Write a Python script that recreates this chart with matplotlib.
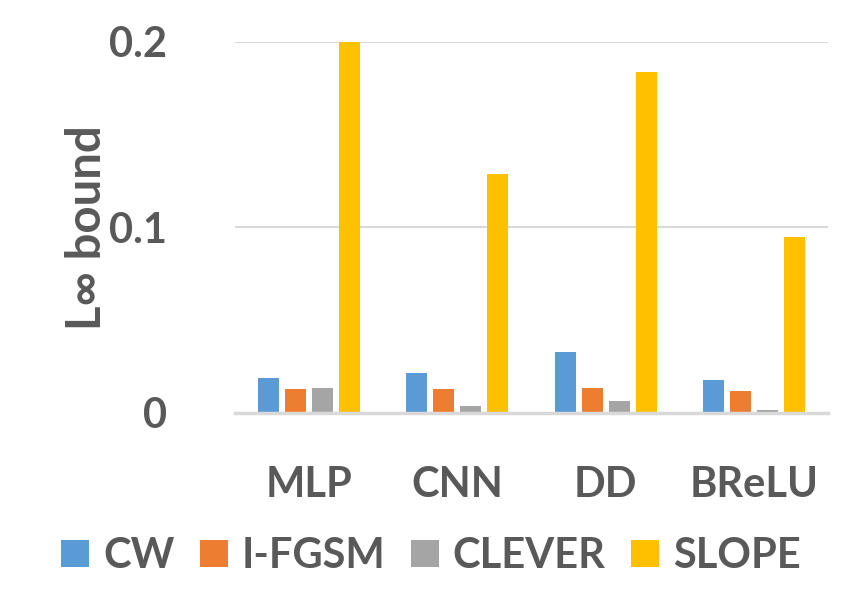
import numpy as np
import matplotlib.pyplot as plt

# Data
models = ["MLP", "CNN", "DD", "BReLU"]
methods = ["CW", "I-FGSM", "CLEVER", "SLOPE"]
cw = [0.0189, 0.0216, 0.0329, 0.0178]
ifgsm = [0.0129, 0.0129, 0.0135, 0.0119]
clever = [0.0135, 0.0038, 0.0065, 0.0016]
slope = [0.2003, 0.1290, 0.1838, 0.0949]
yticks = [0, 0.1, 0.2]
ytick_labels = ["0", "0.1", "0.2"]

colors = ["#5B9BD5", "#ED7D31", "#A5A5A5", "#FFC000"]
text_color = "#595959"

plt.rcParams['font.family'] = ['Lato', 'DejaVu Sans']
plt.rcParams['font.weight'] = 'bold'

fig = plt.figure(figsize=(8.5, 6.05), dpi=100)
ax = fig.add_axes([0.2765, 0.3174, 0.6975, 0.6132])

x = np.arange(len(models))
width = 0.142
step = 0.182
series = [cw, ifgsm, clever, slope]
for i, (vals, name, c) in enumerate(zip(series, methods, colors)):
    ax.bar(x + (i - 1.5) * step, vals, width, color=c, label=name, zorder=3)

ax.set_xlim(-0.5, 3.5)
ax.set_ylim(0, 0.2)
ax.set_yticks(yticks)
ax.set_yticklabels(ytick_labels)
ax.set_xticks(x)
ax.set_xticklabels(models)
ax.grid(axis='y', color='#D9D9D9', linewidth=1.5, zorder=0)
ax.tick_params(length=0, labelsize=30, colors=text_color)
ax.tick_params(axis='y', pad=49)
ax.tick_params(axis='x', pad=38)
for s in ['top', 'right', 'left']:
    ax.spines[s].set_visible(False)
ax.spines['bottom'].set_color('#D9D9D9')
ax.spines['bottom'].set_linewidth(2.5)
ax.spines['bottom'].set_zorder(4)

ax.set_ylabel("L\u221e bound", fontsize=34, color=text_color, fontweight='bold')
ax.yaxis.set_label_coords(-0.212, 0.5)

fig.legend(*ax.get_legend_handles_labels(), loc='center', bbox_to_anchor=(431 / 850, 1 - 556 / 605),
           ncol=4, frameon=False, fontsize=30, handlelength=0.67, handleheight=0.62,
           handletextpad=0.34, columnspacing=0.6, labelcolor=text_color, borderpad=0)

fig.savefig("out.png", dpi=100)
